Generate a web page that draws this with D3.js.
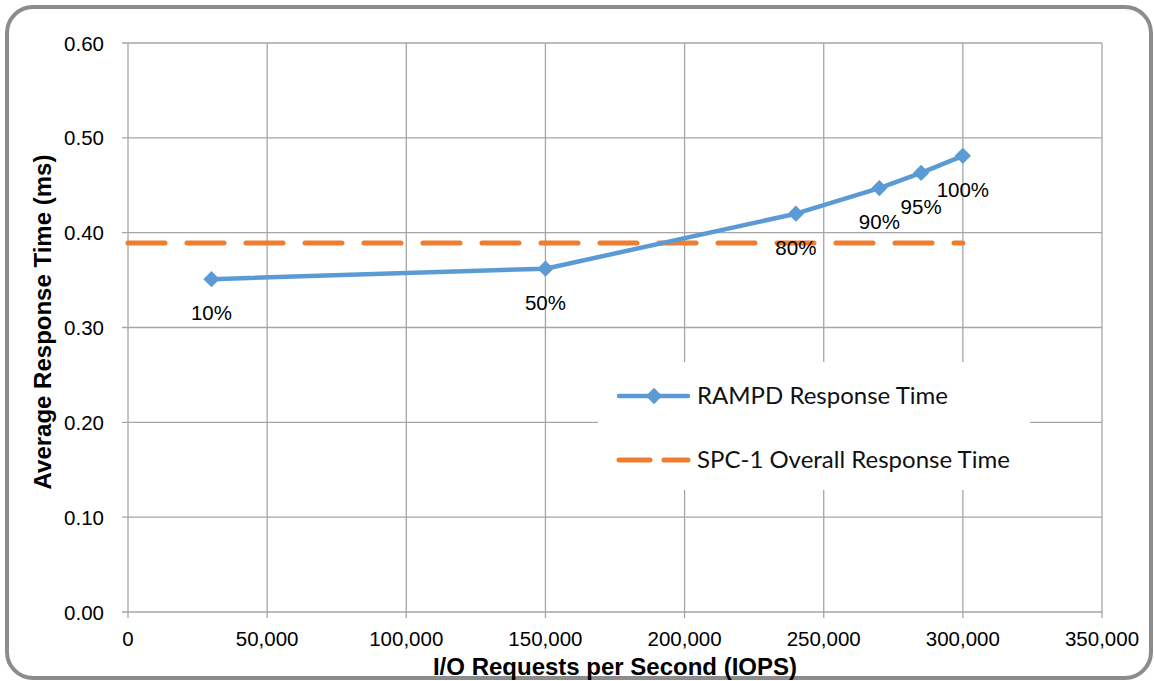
<!DOCTYPE html>
<html>
<head>
<meta charset="utf-8">
<script src="https://cdn.jsdelivr.net/npm/d3@7"></script>
<style>
body { margin: 0; background: #fff; }
svg { display: block; }
</style>
</head>
<body>
<script>
// data
var iops = [30000, 150000, 240000, 270000, 285000, 300000];
var respTime = [0.351, 0.362, 0.420, 0.447, 0.463, 0.481];
var loadLabels = ['10%', '50%', '80%', '90%', '95%', '100%'];
var overallResp = 0.389;
var xTicks = [0, 50000, 100000, 150000, 200000, 250000, 300000, 350000];
var yTicks = [0, 0.1, 0.2, 0.3, 0.4, 0.5, 0.6];
var seriesNames = ['RAMPD Response Time', 'SPC-1 Overall Response Time'];

var W = 1154, H = 681;
var blue = '#5B9BD5', orange = '#ED7D31', grid = '#A6A6A6';
var arial = 'Liberation Sans, Arial, sans-serif';

var svg = d3.select('body').append('svg')
    .attr('width', W).attr('height', H);

svg.append('rect')
    .attr('x', 7).attr('y', 7)
    .attr('width', W - 10).attr('height', H - 10)
    .attr('rx', 26)
    .attr('fill', '#fff')
    .attr('stroke', '#8C8C8C')
    .attr('stroke-width', 4);

var x = d3.scaleLinear().domain([0, 350000]).range([128, 1102]);
var y = d3.scaleLinear().domain([0, 0.6]).range([612, 43]);

// grid
svg.append('g').selectAll('line').data(yTicks).enter().append('line')
    .attr('x1', 122).attr('x2', 1102)
    .attr('y1', d => y(d)).attr('y2', d => y(d))
    .attr('stroke', grid).attr('stroke-width', 1.3);
svg.append('g').selectAll('line').data(xTicks).enter().append('line')
    .attr('x1', d => x(d)).attr('x2', d => x(d))
    .attr('y1', 43).attr('y2', 618)
    .attr('stroke', grid).attr('stroke-width', 1.3);

// tick labels
svg.append('g').selectAll('text').data(yTicks).enter().append('text')
    .attr('x', 104).attr('y', d => y(d) + 7.5)
    .attr('text-anchor', 'end')
    .attr('font-family', arial)
    .attr('font-size', 20.5)
    .text(d => d3.format('.2f')(d));
svg.append('g').selectAll('text').data(xTicks).enter().append('text')
    .attr('x', d => x(d)).attr('y', 646)
    .attr('text-anchor', 'middle')
    .attr('font-family', arial)
    .attr('font-size', 20.5)
    .text(d => d3.format(',')(d));

// axis titles
svg.append('text')
    .attr('transform', 'translate(51,322) rotate(-90)')
    .attr('text-anchor', 'middle')
    .attr('font-family', arial)
    .attr('font-weight', 'bold')
    .attr('font-size', 24)
    .text('Average Response Time (ms)');
svg.append('text')
    .attr('x', 615).attr('y', 675)
    .attr('text-anchor', 'middle')
    .attr('font-family', arial)
    .attr('font-weight', 'bold')
    .attr('font-size', 24)
    .text('I/O Requests per Second (IOPS)');

// legend box (covers gridline)
svg.append('rect')
    .attr('x', 598).attr('y', 362)
    .attr('width', 432).attr('height', 128)
    .attr('fill', '#fff');

// overall response line
svg.append('line')
    .attr('x1', x(0)).attr('x2', x(300000))
    .attr('y1', y(overallResp)).attr('y2', y(overallResp))
    .attr('stroke', orange).attr('stroke-width', 5)
    .attr('stroke-linecap', 'round')
    .attr('stroke-dasharray', '37,22');

var pts = iops.map((d, i) => [d, respTime[i]]);
var line = d3.line().x(d => x(d[0])).y(d => y(d[1]));
svg.append('path')
    .datum(pts)
    .attr('d', line)
    .attr('fill', 'none')
    .attr('stroke', blue).attr('stroke-width', 4.5)
    .attr('stroke-linejoin', 'round');

var diamond = d3.symbol().type(d3.symbolDiamond2).size(170);
svg.append('g').selectAll('path').data(pts).enter().append('path')
    .attr('d', diamond)
    .attr('transform', d => `translate(${x(d[0])},${y(d[1])})`)
    .attr('fill', blue);

svg.append('g').selectAll('text').data(pts).enter().append('text')
    .attr('x', d => x(d[0])).attr('y', d => y(d[1]) + 41)
    .attr('text-anchor', 'middle')
    .attr('font-family', arial)
    .attr('font-size', 20.5)
    .text((d, i) => loadLabels[i]);

// legend
var lg = svg.append('g');
lg.append('line').attr('x1', 619).attr('x2', 688).attr('y1', 396).attr('y2', 396)
    .attr('stroke', blue).attr('stroke-width', 4.5).attr('stroke-linecap', 'round');
lg.append('path').attr('d', diamond)
    .attr('transform', 'translate(654,396)').attr('fill', blue);
lg.append('line').attr('x1', 619).attr('x2', 688).attr('y1', 460).attr('y2', 460)
    .attr('stroke', orange).attr('stroke-width', 5).attr('stroke-linecap', 'round')
    .attr('stroke-dasharray', '31,14');
lg.selectAll('text.lab').data(seriesNames).enter().append('text')
    .attr('x', 697).attr('y', (d, i) => 404 + i * 64)
    .attr('font-family', 'Lato, Open Sans, sans-serif')
    .attr('font-size', 24)
    .attr('fill', '#111')
    .text(d => d);
</script>
</body>
</html>
